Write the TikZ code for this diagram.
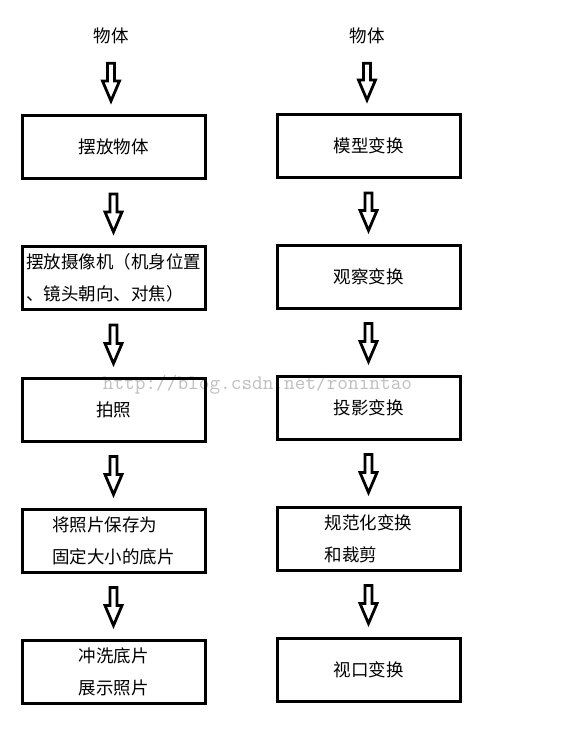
\documentclass[tikz,border=0pt]{standalone}
\usepackage{fontspec}
\setmainfont{Noto Sans CJK SC}
\usetikzlibrary{calc}

\tikzset{
  stage/.style={draw, line width=3pt, minimum width=183pt, minimum height=63pt,
    inner sep=0pt, font=\fontsize{17.5}{32}\selectfont},
  caption/.style={inner sep=5pt, font=\fontsize{17.5}{21}\selectfont},
  hollow/.style={draw, line width=2.8pt, fill=white},
}
% hollow block arrow from one node down to the next
\newcommand{\flowarrow}[2]{%
  \draw[hollow] let \p1=(#1.south), \p2=(#2.north) in
    (\x1-3.5pt,\y1-14pt) -- (\x1+3.5pt,\y1-14pt) -- (\x1+3.5pt,\y2+33pt)
    -- (\x1+8.5pt,\y2+33pt) -- (\x1,\y2+13pt) -- (\x1-8.5pt,\y2+33pt)
    -- (\x1-3.5pt,\y2+33pt) -- cycle;}

\begin{document}
\begin{tikzpicture}[x=1pt, y=-1pt]
\useasboundingbox (0,0) rectangle (572,730);
% watermark
\node[font=\ttfamily\fontsize{20.7}{20.7}\selectfont, text=gray!50] (mark) at (257.5,385) {http://blog.csdn.net/ronintao};
% left column: camera
\node[caption] (objL) at (111,36) {物体};
\node[stage] (putobj) at (113.5,147) {摆放物体};
\node[stage, align=left] (putcam) at (113.5,278) {摆放摄像机（机身位置\\、镜头朝向、对焦）};
\node[stage] (shoot) at (113.5,409.5) {拍照};
\node[stage, align=left] (save) at (113.5,540.5) {将照片保存为\\固定大小的底片};
\node[stage, align=center] (develop) at (113.5,671.5) {冲洗底片\\展示照片};
% right column: OpenGL
\node[caption] (objR) at (367,36) {物体};
\node[stage] (model) at (368.5,146) {模型变换};
\node[stage] (view) at (368.5,276.5) {观察变换};
\node[stage] (proj) at (368.5,407.5) {投影变换};
\node[stage, align=left] (clip) at (368.5,538.5) {规范化变换\\和裁剪};
\node[stage] (port) at (368.5,669.5) {视口变换};
% arrows
\flowarrow{objL}{putobj}
\flowarrow{putobj}{putcam}
\flowarrow{putcam}{shoot}
\flowarrow{shoot}{save}
\flowarrow{save}{develop}
\flowarrow{objR}{model}
\flowarrow{model}{view}
\flowarrow{view}{proj}
\flowarrow{proj}{clip}
\flowarrow{clip}{port}
\end{tikzpicture}
\end{document}
